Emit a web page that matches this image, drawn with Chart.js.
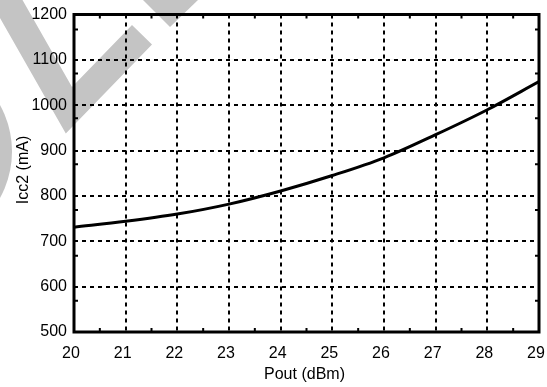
<!DOCTYPE html>
<html>
<head>
<meta charset="utf-8">
<script src="https://cdn.jsdelivr.net/npm/chart.js@4.4.1/dist/chart.umd.min.js"></script>
<style>
  html, body { margin: 0; padding: 0; background: #ffffff; }
  #wrap { width: 547px; height: 387px; }
</style>
</head>
<body>
<div id="wrap"><canvas id="c" width="547" height="387"></canvas></div>
<script>
// ---- data ----
const pout = [20, 21, 22, 23, 24, 25, 26, 27, 28, 29];
const icc2 = [731, 744, 760, 782, 811, 845, 884, 935, 990, 1052];

// axis settings and labels
const xMin = 20, xMax = 29, xStep = 1;
const yMin = 500, yMax = 1200, yStep = 100;
const xTitle = 'Pout (dBm)';
const yTitle = 'Icc2 (mA)';

// small inward tick marks on the frame (axis values)
const bottomMinor = [20.5, 21.5, 22.5, 23.5, 24.5, 25.5, 26.5, 27.5, 28.5];
const topMinor = [20.5, 21.5, 22.5, 23.5, 24.5, 25.5, 26.5, 27.5, 28.5];
const sideMinor = [1167, 1070, 971, 870, 769, 668, 569];

const FONT = '"Liberation Sans", Arial, Helvetica, sans-serif';

const points = pout.map((x, i) => ({ x: x, y: icc2[i] }));

// grey watermark drawn under everything
const watermark = {
  id: 'watermark',
  beforeDraw(chart) {
    const ctx = chart.ctx;
    ctx.save();
    ctx.fillStyle = '#c4c4c4';
    ctx.beginPath();
    ctx.moveTo(0, 0);
    ctx.lineTo(22.5, 0);
    ctx.lineTo(72, 87);
    ctx.lineTo(132, 25);
    ctx.lineTo(152, 44.5);
    ctx.lineTo(65.8, 133.6);
    ctx.lineTo(0, 18);
    ctx.closePath();
    ctx.fill();
    ctx.beginPath();
    ctx.moveTo(143, 0);
    ctx.lineTo(170, 27);
    ctx.lineTo(198, 0);
    ctx.closePath();
    ctx.fill();
    ctx.beginPath();
    ctx.arc(-84, 151.5, 96, -Math.PI / 2, Math.PI / 2);
    ctx.closePath();
    ctx.fill();
    ctx.restore();
  }
};

// frame, minor ticks and axis titles
const frame = {
  id: 'frame',
  afterDraw(chart) {
    const ctx = chart.ctx;
    const a = chart.chartArea;
    const xs = chart.scales.x, ys = chart.scales.y;
    ctx.save();
    ctx.strokeStyle = '#000';
    ctx.lineWidth = 2;
    ctx.beginPath();
    bottomMinor.forEach(v => { const px = xs.getPixelForValue(v); ctx.moveTo(px, a.bottom); ctx.lineTo(px, a.bottom - 4); });
    topMinor.forEach(v => { const px = xs.getPixelForValue(v); ctx.moveTo(px, a.top); ctx.lineTo(px, a.top + 4); });
    sideMinor.forEach(v => {
      const py = ys.getPixelForValue(v);
      ctx.moveTo(a.left, py); ctx.lineTo(a.left + 4, py);
      ctx.moveTo(a.right, py); ctx.lineTo(a.right - 4, py);
    });
    ctx.stroke();
    ctx.lineWidth = 3;
    ctx.strokeRect(a.left, a.top, a.right - a.left, a.bottom - a.top);

    ctx.fillStyle = '#000';
    ctx.font = '16px ' + FONT;
    ctx.textAlign = 'center';
    ctx.textBaseline = 'middle';
    ctx.fillText(xTitle, 304.5, 375);
    ctx.translate(23.5, 170);
    ctx.rotate(-Math.PI / 2);
    ctx.fillText(yTitle, 0, 0);
    ctx.restore();
  }
};

new Chart(document.getElementById('c'), {
  type: 'line',
  data: {
    datasets: [{
      data: points,
      borderColor: '#000',
      borderWidth: 3,
      pointRadius: 0,
      fill: false,
      tension: 0.4,
      cubicInterpolationMode: 'monotone'
    }]
  },
  options: {
    responsive: false,
    animation: false,
    devicePixelRatio: 1,
    layout: { padding: { top: 14.5, right: 8, left: 0, bottom: 0 } },
    plugins: { legend: { display: false }, tooltip: { enabled: false } },
    scales: {
      x: {
        type: 'linear',
        min: xMin, max: xMax,
        afterFit(s) { s.height = 55; s.paddingLeft = 0; s.paddingRight = 0; },
        ticks: { stepSize: xStep, autoSkip: false, color: '#000', padding: 12, maxRotation: 0,
                 labelOffset: -3,
                 callback: v => String(v),
                 font: { family: FONT, size: 16 } },
        grid: { color: '#000', lineWidth: 2, drawTicks: false },
        border: { display: false, dash: [4, 4] }
      },
      y: {
        type: 'linear',
        min: yMin, max: yMax,
        afterFit(s) { s.width = 74; s.paddingTop = 0; s.paddingBottom = 0; },
        ticks: { stepSize: yStep, autoSkip: false, color: '#000', padding: 7,
                 callback: v => String(v),
                 font: { family: FONT, size: 16 } },
        grid: { color: '#000', lineWidth: 2, drawTicks: false },
        border: { display: false, dash: [4, 4] }
      }
    }
  },
  plugins: [watermark, frame]
});
</script>
</body>
</html>
